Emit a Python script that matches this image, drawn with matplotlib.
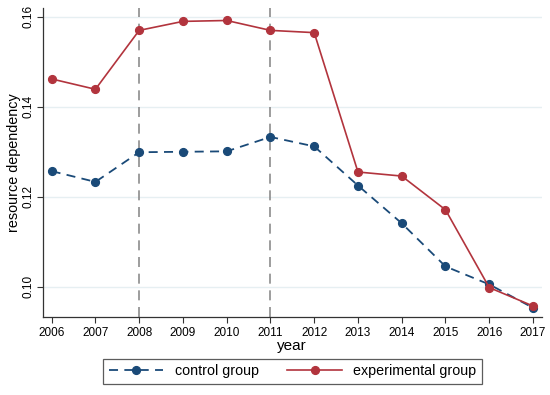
import matplotlib
matplotlib.use("Agg")
import matplotlib.pyplot as plt

years = [2006, 2007, 2008, 2009, 2010, 2011, 2012, 2013, 2014, 2015, 2016, 2017]
control = [0.1257, 0.1233, 0.1299, 0.1300, 0.1301, 0.1333, 0.1312, 0.1225, 0.1141, 0.1045, 0.1005, 0.0953]
experimental = [0.1462, 0.1439, 0.1570, 0.1590, 0.1592, 0.1570, 0.1565, 0.1255, 0.1246, 0.1171, 0.0998, 0.0957]
yticks = [0.10, 0.12, 0.14, 0.16]
ytick_labels = ["0.10", "0.12", "0.14", "0.16"]
vlines = [2008, 2011]

navy = "#1a4a78"
red = "#b2343d"

fig = plt.figure(figsize=(5.5, 3.95), dpi=100)
ax = fig.add_axes([0.078, 0.198, 0.907, 0.782])

for y in yticks:
    ax.axhline(y, color="#e6eff2", lw=1.0, zorder=0)
for v in vlines:
    ax.axvline(v, color="#8c8c8c", lw=1.2, ls=(0, (6, 4)), zorder=1)

ax.plot(years, control, color=navy, lw=1.3, ls=(0, (5, 3.5)), marker="o", ms=5.6,
        markerfacecolor=navy, markeredgecolor=navy, label="control group", zorder=3)
ax.plot(years, experimental, color=red, lw=1.2, ls="-", marker="o", ms=5.6,
        markerfacecolor=red, markeredgecolor=red, label="experimental group", zorder=3)

ax.set_xlim(2005.8, 2017.2)
ax.set_ylim(0.0933, 0.162)
ax.set_xticks(years)
ax.set_xticklabels([str(y) for y in years], fontsize=8.5, family="Liberation Sans")
ax.set_yticks(yticks)
ax.set_yticklabels(ytick_labels, fontsize=8.5, rotation=90, va="center", family="Liberation Sans")
ax.tick_params(axis="both", length=4, width=0.8, color="#333333")
ax.tick_params(axis="y", pad=2)
for s in ["top", "right"]:
    ax.spines[s].set_visible(False)
for s in ["left", "bottom"]:
    ax.spines[s].set_color("#333333")
    ax.spines[s].set_linewidth(0.9)

ax.set_xlabel("year", fontsize=11, family="Liberation Sans", labelpad=0)
ax.set_ylabel("resource dependency", fontsize=10.4, family="Liberation Sans", labelpad=1)

leg = fig.legend(loc="center", bbox_to_anchor=(0.532, 0.0595), ncol=2, frameon=True,
                 fancybox=False, edgecolor="#333333",
                 prop={"family": "Liberation Sans", "size": 10.3},
                 handlelength=3.8, columnspacing=2.0, borderpad=0.4, handletextpad=0.8)
leg.get_frame().set_linewidth(0.9)

fig.savefig("out.png", dpi=100)
